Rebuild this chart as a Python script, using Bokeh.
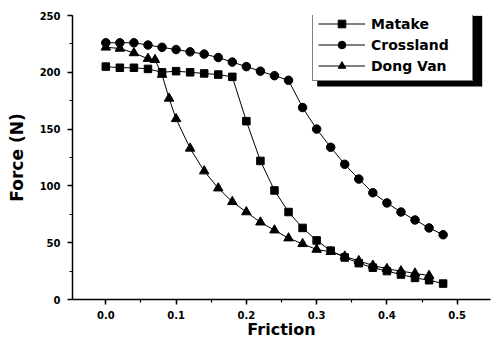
from bokeh.plotting import figure
from bokeh.models import (Legend, LegendItem, BoxAnnotation, SingleIntervalTicker,
                          PrintfTickFormatter, Range1d)
from bokeh.embed import file_html
from bokeh.resources import INLINE

# ---- data ----
matake_x = [0.00, 0.02, 0.04, 0.06, 0.08, 0.10, 0.12, 0.14, 0.16, 0.18, 0.20, 0.22, 0.24,
            0.26, 0.28, 0.30, 0.32, 0.34, 0.36, 0.38, 0.40, 0.42, 0.44, 0.46, 0.48]
matake_y = [205, 204, 204, 203, 200, 201, 200, 199, 198, 196, 157, 122, 96,
            77, 63, 52, 43, 37, 32, 28, 25, 22, 19, 17, 14]

crossland_x = [0.00, 0.02, 0.04, 0.06, 0.08, 0.10, 0.12, 0.14, 0.16, 0.18, 0.20, 0.22, 0.24,
               0.26, 0.28, 0.30, 0.32, 0.34, 0.36, 0.38, 0.40, 0.42, 0.44, 0.46, 0.48]
crossland_y = [226, 226, 226, 224, 222, 220, 218, 216, 213, 209, 205, 201, 197,
               193, 169, 150, 134, 119, 106, 94, 85, 77, 70, 63, 57]

dongvan_x = [0.00, 0.02, 0.04, 0.06, 0.07, 0.08, 0.09, 0.10, 0.12, 0.14, 0.16, 0.18, 0.20,
             0.22, 0.24, 0.26, 0.28, 0.30, 0.32, 0.34, 0.36, 0.38, 0.40, 0.42, 0.44, 0.46]
dongvan_y = [222, 221, 217, 212, 211, 198, 177, 159, 133, 113, 98, 86, 77,
             68, 61, 54, 49, 44, 42, 38, 34, 30, 27, 25, 23, 21]

series_names = ["Matake", "Crossland", "Dong Van"]
x_label = "Friction"
y_label = "Force (N)"

FONT = "DejaVu Sans"

p = figure(width=492, height=346,
           x_range=Range1d(-0.0474, 0.5474), y_range=Range1d(0, 250),
           output_backend="svg", toolbar_location=None,
           min_border_left=72, min_border_right=2, min_border_top=15, min_border_bottom=47)
p.outline_line_color = None
p.xgrid.visible = False
p.ygrid.visible = False
p.background_fill_color = "white"
p.border_fill_color = "white"

p.xaxis.ticker = SingleIntervalTicker(interval=0.1, num_minor_ticks=2)
p.xaxis.formatter = PrintfTickFormatter(format="%.1f")
p.yaxis.ticker = SingleIntervalTicker(interval=50, num_minor_ticks=2)
p.xaxis.axis_label = x_label
p.yaxis.axis_label = y_label

for ax in (p.xaxis, p.yaxis):
    ax.axis_line_width = 1.5
    ax.axis_line_color = "black"
    ax.major_tick_line_width = 1.5
    ax.major_tick_line_color = "black"
    ax.minor_tick_line_width = 1.2
    ax.minor_tick_line_color = "black"
    ax.major_tick_in = 0
    ax.major_tick_out = 5
    ax.minor_tick_in = 0
    ax.minor_tick_out = 3
    ax.major_label_text_font = FONT
    ax.major_label_text_font_style = "bold"
    ax.major_label_text_font_size = "10px"
    ax.major_label_text_color = "black"
    ax.axis_label_text_font = FONT
    ax.axis_label_text_font_style = "bold"
    ax.axis_label_text_color = "black"

p.xaxis.major_label_standoff = 6
p.xaxis.axis_label_standoff = -2
p.xaxis.axis_label_text_font_size = "16px"
p.yaxis.major_label_standoff = 7
p.yaxis.axis_label_standoff = 10
p.yaxis.axis_label_text_font_size = "17px"

l1 = p.line(matake_x, matake_y, line_color="black", line_width=1)
s1 = p.scatter(matake_x, matake_y, marker="square", size=7.5, color="black")
l2 = p.line(crossland_x, crossland_y, line_color="black", line_width=1)
s2 = p.scatter(crossland_x, crossland_y, marker="circle", size=8.5, color="black")
l3 = p.line(dongvan_x, dongvan_y, line_color="black", line_width=1)
s3 = p.scatter(dongvan_x, dongvan_y, marker="triangle", size=9.5, color="black")

# legend drop shadow
shadow = BoxAnnotation(left=0.3008, right=0.5356, top=249.7, bottom=187.5,
                       fill_color="black", fill_alpha=1.0, line_color=None, level="annotation")
p.add_layout(shadow)

legend = Legend(items=[LegendItem(label=series_names[0], renderers=[l1, s1]),
                       LegendItem(label=series_names[1], renderers=[l2, s2]),
                       LegendItem(label=series_names[2], renderers=[l3, s3])],
                location=(240, 218))
legend.border_line_color = "black"
legend.border_line_width = 1.2
legend.background_fill_color = "white"
legend.background_fill_alpha = 1.0
legend.label_text_font = FONT
legend.label_text_font_style = "bold"
legend.label_text_font_size = "14px"
legend.label_text_color = "black"
legend.glyph_width = 47
legend.glyph_height = 19
legend.label_standoff = 6
legend.label_width = 96
legend.padding = 5
legend.spacing = 2
legend.margin = 0
p.add_layout(legend)

open("out.html", "w").write(file_html(p, INLINE))
